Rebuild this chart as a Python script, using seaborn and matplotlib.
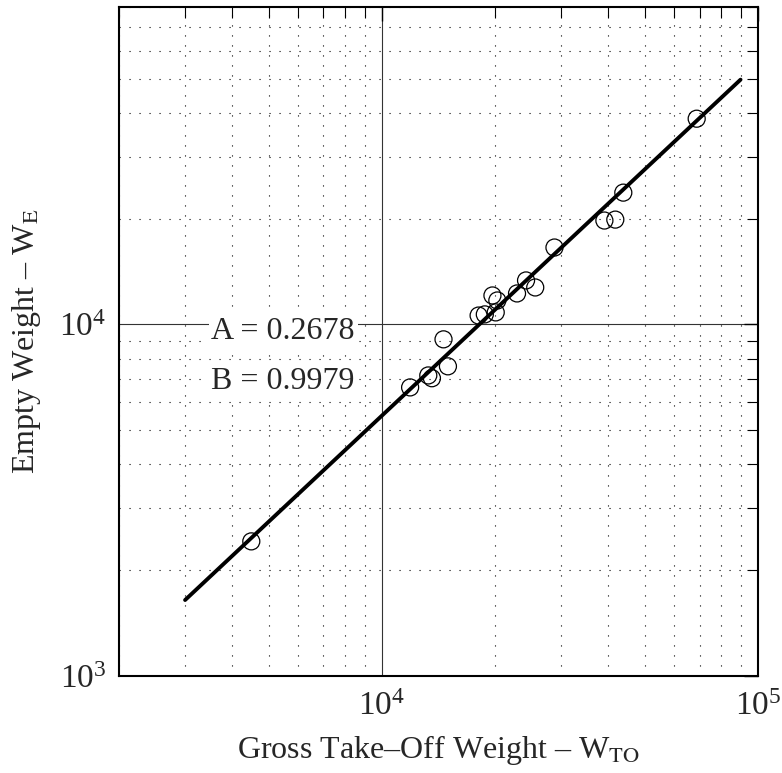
import numpy as np
import pandas as pd
import matplotlib
matplotlib.use("Agg")
import matplotlib.pyplot as plt
import seaborn as sns
from matplotlib.ticker import LogLocator, NullFormatter

# ---- data ----
gtow = [4500, 11900, 13300, 13600, 15000, 14600, 18100, 18800, 20100, 19700,
        20300, 22900, 24200, 25600, 28800, 39100, 41800, 43900, 68800]
empty_w = [2415, 6620, 7160, 7030, 7600, 9070, 10600, 10680, 10820, 12090,
           11700, 12250, 13340, 12740, 16550, 19750, 19870, 23710, 38480]
coef_A = 0.2678
coef_B = 0.9979
fit_x = [3000, 90000]
# regression: log10(W_TO) = A + B*log10(W_E)
fit_y = [10 ** ((np.log10(v) - coef_A) / coef_B) for v in fit_x]

pts = pd.DataFrame({"gtow": gtow, "ew": empty_w})
fit = pd.DataFrame({"x": fit_x, "y": fit_y})

sns.set_style("white")
plt.rcParams["font.family"] = ["Liberation Serif", "DejaVu Serif"]
plt.rcParams["mathtext.fontset"] = "stix"

fig = plt.figure(figsize=(7.82, 7.73), dpi=100)
ax = fig.add_axes([0.152, 0.1255, 0.817, 0.8655])

ax.set_xscale("log")
ax.set_yscale("log")
ax.set_xlim(2000, 1e5)
ax.set_ylim(1000, 80000)

# grid
ax.xaxis.set_minor_locator(LogLocator(base=10, subs=np.arange(2, 10)))
ax.yaxis.set_minor_locator(LogLocator(base=10, subs=np.arange(2, 10)))
ax.xaxis.set_minor_formatter(NullFormatter())
ax.yaxis.set_minor_formatter(NullFormatter())
ax.grid(which="major", color="#333333", linestyle="-", linewidth=0.8, zorder=0)
ax.grid(which="minor", color="black", linestyle=(0, (1, 8)), linewidth=0.8, zorder=0)

sns.lineplot(data=fit, x="x", y="y", ax=ax, color="black", linewidth=2.8, zorder=3)
sns.scatterplot(data=pts, x="gtow", y="ew", ax=ax, marker="o", s=150,
                facecolors="none", edgecolor="black", linewidth=0.9, zorder=4)

bbox = dict(facecolor="white", edgecolor="none", pad=2)
ax.text(3525, 9553, f"A = {coef_A:.4f}", fontsize=23, va="center", ha="left",
        bbox=bbox, zorder=5)
ax.text(3525, 6894, f"B = {coef_B:.4f}", fontsize=23, va="center", ha="left",
        bbox=bbox, zorder=5)

ax.set_xlabel("Gross Take–Off Weight – W$_{\\mathrm{TO}}$", fontsize=23, labelpad=8)
ax.set_ylabel("Empty Weight – W$_{\\mathrm{E}}$", fontsize=23, labelpad=12)

ax.tick_params(which="both", direction="in", top=True, right=True,
               color="black", labelsize=24)
ax.tick_params(which="major", length=10, width=1.0)
ax.tick_params(which="minor", length=8, width=0.8)
ax.tick_params(axis="x", which="major", pad=11)
ax.tick_params(axis="y", which="major", pad=9)

for s in ax.spines.values():
    s.set_visible(True)
    s.set_color("black")
    s.set_linewidth(1.5)

fig.savefig("out.png", dpi=100)
